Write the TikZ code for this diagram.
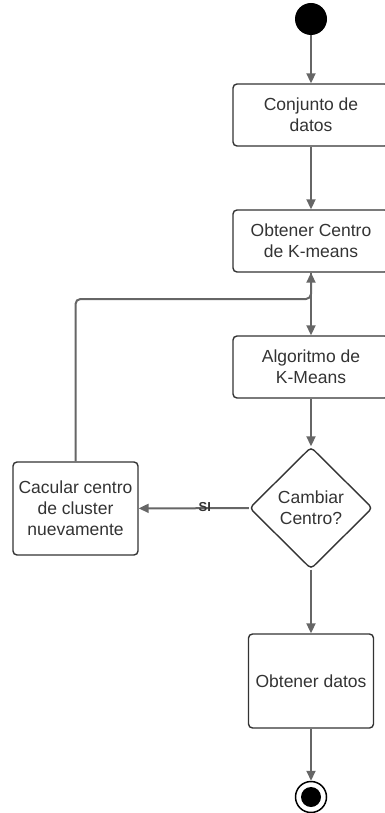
\documentclass[tikz,border=0pt]{standalone}
\usepackage{fontspec}
\setmainfont{Liberation Sans}
\usetikzlibrary{shapes.geometric,arrows.meta}
\definecolor{txt}{HTML}{333333}
\definecolor{ln}{HTML}{666666}
\begin{document}
\begin{tikzpicture}[x=1pt,y=-1pt,
  box/.style={draw=txt,line width=1.4pt,rounded corners=4pt,align=center,text=txt,font=\fontsize{17.5}{21}\selectfont,inner sep=0pt},
  dia/.style={draw=txt,line width=1.4pt,diamond,rounded corners=4pt,align=center,text=txt,font=\fontsize{17.5}{21}\selectfont,minimum width=123pt,minimum height=122pt,inner sep=0pt},
  conn/.style={draw=ln,line width=2pt,-{Triangle[length=10pt,width=9pt]}}]
\useasboundingbox (0,0) rectangle (385,813);
\clip (0,0) rectangle (385,813);
\node[circle,fill=black,minimum size=32pt,inner sep=0pt] (start) at (311,19) {};
\node[box,minimum width=156pt,minimum height=62pt] (b1) at (311,115) {Conjunto de\\datos};
\node[box,minimum width=156pt,minimum height=62pt] (b2) at (311,241) {Obtener Centro\\de K-means};
\node[box,minimum width=156pt,minimum height=62pt] (b3) at (311,367) {Algoritmo de\\K-Means};
\node[dia] (d) at (311,508) {Cambiar\\Centro?};
\node[box,minimum width=125pt,minimum height=93pt] (l) at (75.5,508.5) {Cacular centro\\de cluster\\nuevamente};
\node[box,minimum width=125pt,minimum height=94pt] (o) at (311,681) {Obtener datos};
\node[circle,draw=black,line width=1.5pt,fill=white,minimum size=31pt,inner sep=0pt] (end) at (311,797) {};
\node[circle,fill=black,minimum size=20pt,inner sep=0pt] at (end) {};
\coordinate (j) at (311,299);
\draw[conn] (start) -- (b1);
\draw[conn] (b1) -- (b2);
\draw[conn] (b2) -- (b3);
\draw[conn] (b3) -- (d);
\draw[conn] (d) -- node[inner sep=0pt,text=txt,font=\fontsize{13}{15}\selectfont\bfseries,pos=0.4,anchor=center,yshift=1pt]{SI} (l);
\draw[conn,rounded corners=5pt] (l.north) |- (j) -- (b2.south);
\draw[conn] (d) -- (o);
\draw[conn] (o) -- (end);
\end{tikzpicture}
\end{document}
